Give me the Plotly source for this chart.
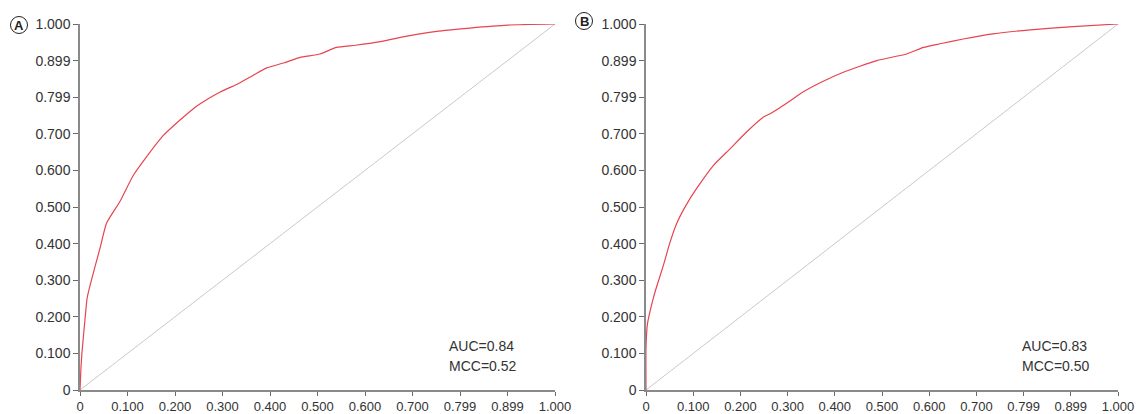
import plotly.graph_objects as go

# ---- data ----
tick_vals = [0, 0.1, 0.2, 0.3, 0.4, 0.5, 0.6, 0.7, 0.8, 0.9, 1.0]
tick_text = ["0", "0.100", "0.200", "0.300", "0.400", "0.500", "0.600", "0.700", "0.799", "0.899", "1.000"]

fpr_a = [0, 0.002, 0.004, 0.011, 0.015, 0.022, 0.042, 0.056, 0.084, 0.112, 0.14, 0.175, 0.21,
         0.238, 0.253, 0.295, 0.335, 0.358, 0.393, 0.43, 0.463, 0.505, 0.54, 0.58, 0.632,
         0.68, 0.751, 0.821, 0.9, 1.0]
tpr_a = [0, 0.06, 0.1, 0.2, 0.251, 0.29, 0.387, 0.456, 0.515, 0.586, 0.637, 0.695, 0.737,
         0.768, 0.782, 0.814, 0.838, 0.855, 0.880, 0.894, 0.909, 0.918, 0.936, 0.942, 0.952,
         0.965, 0.980, 0.989, 0.997, 1.0]

fpr_b = [0, 0, 0.003, 0.0155, 0.022, 0.037, 0.05, 0.065, 0.085, 0.107, 0.143, 0.178, 0.213,
         0.249, 0.263, 0.312, 0.326, 0.37, 0.418, 0.489, 0.552, 0.588, 0.623, 0.672, 0.735,
         0.814, 0.905, 1.0]
tpr_b = [0, 0.114, 0.18, 0.251, 0.28, 0.341, 0.40, 0.455, 0.505, 0.55, 0.614, 0.659, 0.705,
         0.746, 0.755, 0.796, 0.809, 0.84, 0.868, 0.9, 0.918, 0.936, 0.946, 0.959, 0.973,
         0.984, 0.993, 1.0]

diag = [0, 1]
panel_labels = ["A", "B"]
stats_a = ["AUC=0.84", "MCC=0.52"]
stats_b = ["AUC=0.83", "MCC=0.50"]

W, H = 1139, 414
RED = "#e8434f"
GRAY = "#c9c9c9"
FONT = "Liberation Sans, Arial, Helvetica, sans-serif"

fig = go.Figure()

for fx, fy, xa, ya in [(fpr_a, tpr_a, "x", "y"), (fpr_b, tpr_b, "x2", "y2")]:
    fig.add_trace(go.Scatter(x=diag, y=diag, mode="lines", xaxis=xa, yaxis=ya,
                             line=dict(color=GRAY, width=1), showlegend=False, hoverinfo="skip"))
    fig.add_trace(go.Scatter(x=fx, y=fy, mode="lines", xaxis=xa, yaxis=ya,
                             line=dict(color=RED, width=1.2, shape="spline", smoothing=0.5),
                             showlegend=False))

def px_x(p):
    return p / W

def px_y(p):
    return 1 - p / H

ydom = [px_y(390), px_y(24)]
common = dict(range=[0, 1], tickvals=tick_vals, ticktext=tick_text, showgrid=False,
              zeroline=False, showline=True, linecolor="#8a8a8a", linewidth=1.5,
              ticks="outside", tickcolor="#6a6a6a", tickwidth=1,
              automargin=False, fixedrange=True)
x_style = dict(ticklen=4, tickfont=dict(family=FONT, size=13, color="#333333"), **common)
y_style = dict(ticklen=5, tickfont=dict(family=FONT, size=14, color="#333333"), **common)

fig.update_layout(
    width=W, height=H,
    margin=dict(l=0, r=0, t=0, b=0, pad=0, autoexpand=False),
    paper_bgcolor="white", plot_bgcolor="white",
    xaxis=dict(domain=[px_x(80), px_x(555)], anchor="y", **x_style),
    yaxis=dict(domain=ydom, anchor="x", **y_style),
    xaxis2=dict(domain=[px_x(646), px_x(1118)], anchor="y2", **x_style),
    yaxis2=dict(domain=ydom, anchor="x2", **y_style),
)

# panel labels (circled letters)
for lbl, cx, cy in [(panel_labels[0], 19, 25), (panel_labels[1], 584, 21)]:
    r = 8.5
    fig.add_shape(type="circle", xref="paper", yref="paper",
                  x0=px_x(cx - r), x1=px_x(cx + r), y0=px_y(cy + r), y1=px_y(cy - r),
                  line=dict(color="#222222", width=1))
    fig.add_annotation(x=px_x(cx), y=px_y(cy), xref="paper", yref="paper", text="<b>%s</b>" % lbl,
                       showarrow=False, font=dict(family=FONT, size=13, color="#222222"),
                       xanchor="center", yanchor="middle")

for stats, x0 in [(stats_a, 447), (stats_b, 1020)]:
    for i, s in enumerate(stats):
        fig.add_annotation(x=px_x(x0), y=px_y(346 + 20 * i), xref="paper", yref="paper", text=s,
                           showarrow=False, font=dict(family=FONT, size=14, color="#333333"),
                           xanchor="left", yanchor="middle")

fig.write_html("out.html")
